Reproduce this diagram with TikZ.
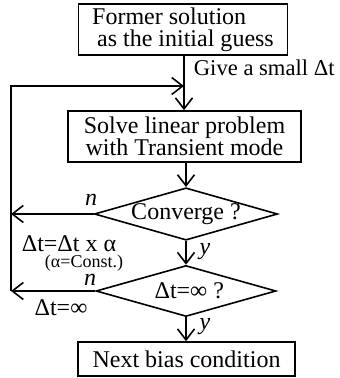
\documentclass[tikz,border=0pt]{standalone}
\usepackage{fontspec}
\setmainfont{Liberation Serif}
\usetikzlibrary{shapes.geometric,arrows.meta}
\begin{document}
\begin{tikzpicture}[
    x=0.5pt, y=-0.5pt,
    every node/.style={font=\fontsize{12}{11}\selectfont},
    procbox/.style={draw, line width=0.8pt, inner sep=1pt},
    decbox/.style={draw, line width=0.8pt, diamond, aspect=3.5, inner sep=0pt, minimum width=90pt, minimum height=25.5pt},
    flowarrow/.style={-{Straight Barb[length=5.5pt, width=8.5pt, line width=0.8pt]}, line width=0.8pt},
    branchlabel/.style={font=\fontsize{12}{11}\selectfont\itshape, inner sep=0pt},
]
\useasboundingbox (0,0) rectangle (340,378);

% Boxes along the spine
\node[procbox, minimum width=104.5pt, minimum height=25.5pt, align=left] (former) at (183,29.5) {Former solution\\\hspace{2.5pt}as the initial guess};
\node[procbox, minimum width=116.5pt, minimum height=25.5pt, align=center] (solve) at (184.5,136.5) {Solve linear problem\\with Transient mode};
\node[decbox] (conv) at (186,214) {Converge ?};
\node[decbox] (tinf) at (186,291) {$\phantom{.}$Δt=∞ ?};
\node[procbox, minimum width=108.5pt, minimum height=17pt] (next) at (186.5,359) {Next bias condition};

% Loop points
\coordinate (merge) at (184,86);
\coordinate (loopx) at (11,0);

% Main flow
\draw[line width=0.8pt] (former.south -| merge) -- (merge);
\draw[flowarrow] (merge) -- (merge |- solve.north);
\draw[flowarrow] (solve.south -| conv.north) -- (conv.north);
\draw[flowarrow] (conv.south) -- (tinf.north);
\draw[flowarrow] (tinf.south) -- (tinf.south |- next.north);

% Feedback paths
\draw[flowarrow] (conv.west) -- (conv.west -| loopx);
\draw[flowarrow] (tinf.west) -- (tinf.west -| loopx);
\draw[flowarrow] (tinf.west -| loopx) -- (loopx |- merge) -- (merge);

% Labels
\node[anchor=east, inner sep=0pt, font=\fontsize{11.3}{11}\selectfont] (give) at (335,68) {Give a small Δt};
\node[branchlabel] (n1) at (91,200) {n};
\node[branchlabel] (y1) at (205,252) {y};
\node[branchlabel] (n2) at (90,280) {n};
\node[branchlabel] (y2) at (205,327) {y};
\node[inner sep=0pt] (upd) at (69,244) {Δt=Δt x α};
\node[inner sep=0pt, font=\fontsize{9}{9}\selectfont] (const) at (84,263) {(α=Const.)};
\node[inner sep=0pt] (inf) at (61,308) {Δt=∞};
\end{tikzpicture}
\end{document}
